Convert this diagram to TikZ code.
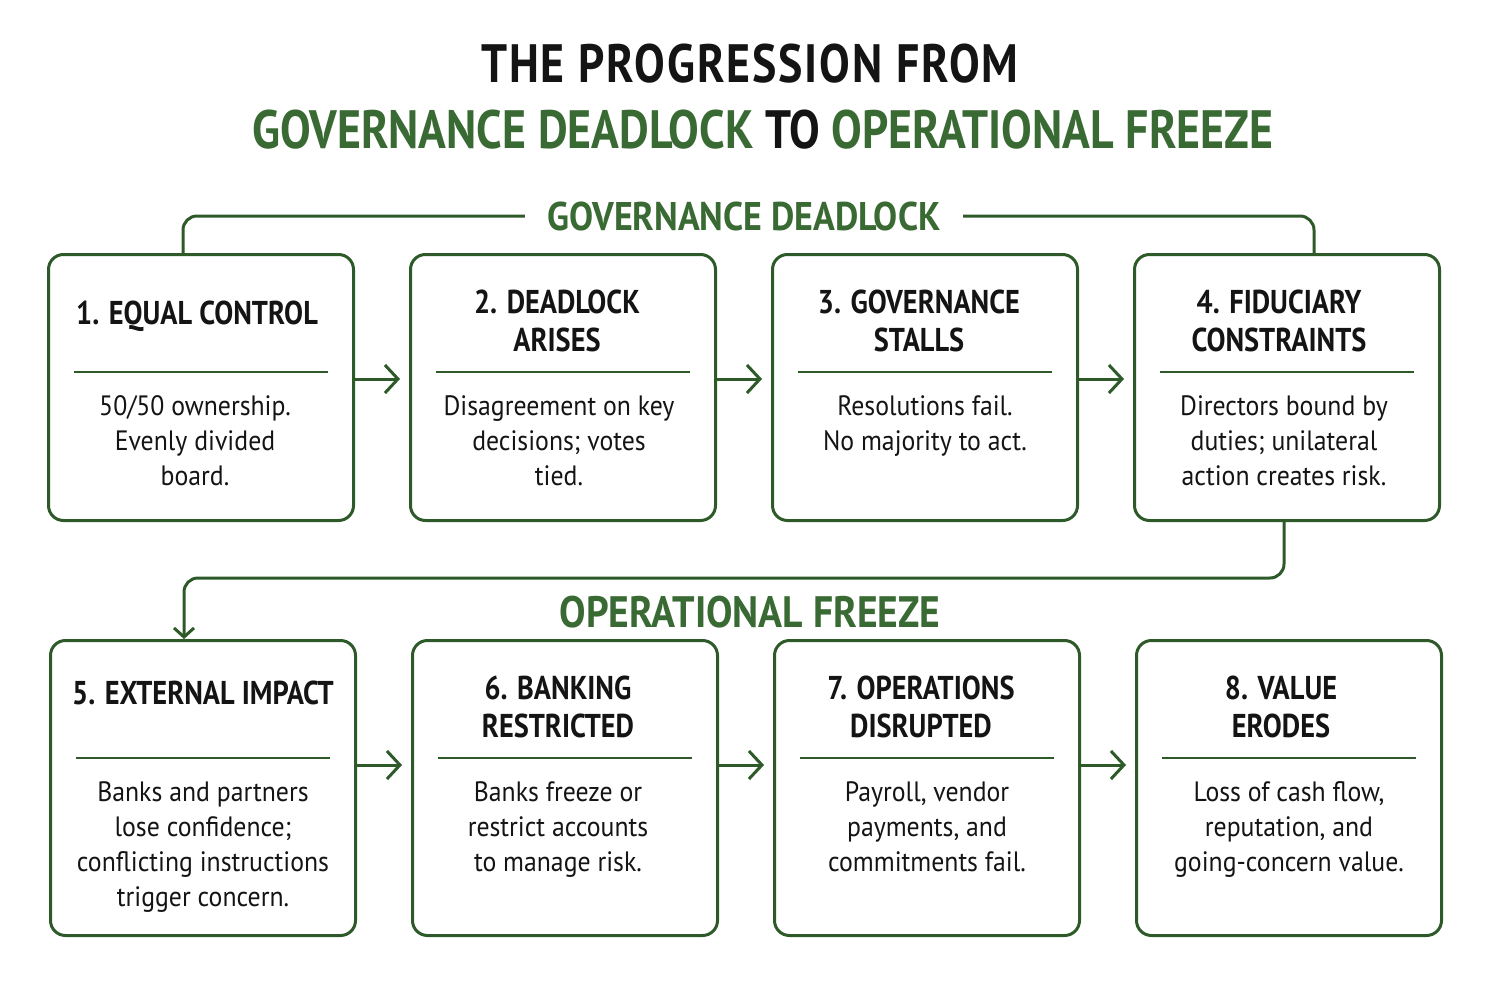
\documentclass[tikz,border=0pt]{standalone}
\usepackage{fontspec}
\setmainfont{PT Sans}[FakeStretch=0.92]
\newfontfamily\headfont{PT Sans}[FakeStretch=0.86]
\newfontfamily\phasefont{PT Sans}[FakeStretch=0.9]
\newfontfamily\titlefont{PT Sans}[FakeStretch=0.85]
\usetikzlibrary{positioning,arrows.meta}

\definecolor{deepgreen}{HTML}{2E5A2A}
\definecolor{leafgreen}{HTML}{3A6A33}
\definecolor{inkblack}{HTML}{141414}

\tikzset{
  card/.style={draw=deepgreen, line width=3pt, rounded corners=15pt, fill=white, minimum width=305pt, inner sep=0pt},
  toprow/.style={card, minimum height=266pt},
  botrow/.style={card, minimum height=295pt},
  cardhead/.style={font=\headfont\bfseries\fontsize{33}{38}\selectfont, align=center, text=inkblack},
  cardbody/.style={font=\fontsize{28}{35}\selectfont, align=center, text=inkblack, anchor=north, inner sep=0pt},
  divider/.style={draw=deepgreen, line width=2.5pt},
  flow/.style={draw=deepgreen, line width=3pt, -{Straight Barb[length=13pt,width=28pt]}},
  link/.style={draw=deepgreen, line width=3pt, rounded corners=14pt},
  phase/.style={font=\phasefont\bfseries\fontsize{40}{42}\selectfont, text=leafgreen, fill=white, inner xsep=23pt, inner ysep=4pt},
  headline/.style={font=\titlefont\bfseries\fontsize{54}{60}\selectfont, text=inkblack, anchor=base},
}

\begin{document}
\begin{tikzpicture}[x=1pt,y=-1pt]
  \useasboundingbox[fill=white] (0,0) rectangle (1492,985);

  % title
  \node[headline] (head1) at (750,82) {\addfontfeature{LetterSpace=3.5}THE PROGRESSION FROM};
  \node[headline] (head2) at (763,148) {\textcolor{leafgreen}{GOVERNANCE DEADLOCK} TO \textcolor{leafgreen}{OPERATIONAL FREEZE}};

  % cards
  \node[toprow] (b1) at (201,387.5) {};
  \node[toprow, right=54pt of b1] (b2) {};
  \node[toprow, right=54pt of b2] (b3) {};
  \node[toprow, right=54pt of b3] (b4) {};
  \node[botrow, below=117pt of b1, xshift=2pt] (b5) {};
  \node[botrow, right=54pt of b5] (b6) {};
  \node[botrow, right=54pt of b6] (b7) {};
  \node[botrow, right=54pt of b7] (b8) {};

  \foreach \b in {b1,b2,b3,b4,b5,b6,b7,b8}
    \draw[divider] ([xshift=27pt,yshift=-119pt]\b.north west) -- ([xshift=-27pt,yshift=-119pt]\b.north east);

  % headings
  \node[cardhead] (h1) at ([xshift=-4pt,yshift=-63pt]b1.north) {1. EQUAL CONTROL};
  \node[cardhead] (h2) at ([xshift=-6pt,yshift=-68pt]b2.north) {2. DEADLOCK\\ARISES};
  \node[cardhead] (h3) at ([xshift=-6pt,yshift=-68pt]b3.north) {3. GOVERNANCE\\STALLS};
  \node[cardhead] (h4) at ([xshift=-8pt,yshift=-68pt]b4.north) {4. FIDUCIARY\\CONSTRAINTS};
  \node[cardhead] (h5) at ([yshift=-54pt]b5.north) {5. EXTERNAL IMPACT};
  \node[cardhead] (h6) at ([xshift=-7pt,yshift=-68pt]b6.north) {6. BANKING\\RESTRICTED};
  \node[cardhead] (h7) at ([xshift=-6pt,yshift=-68pt]b7.north) {7. OPERATIONS\\DISRUPTED};
  \node[cardhead] (h8) at ([xshift=-8pt,yshift=-68pt]b8.north) {8. VALUE\\ERODES};

  % descriptions
  \node[cardbody] (d1) at ([xshift=-6pt,yshift=-142pt]b1.north) {50/50 ownership.\\Evenly divided\\board.};
  \node[cardbody] (d2) at ([xshift=-4pt,yshift=-142pt]b2.north) {Disagreement on key\\decisions; votes\\tied.};
  \node[cardbody] (d3) at ([yshift=-142pt]b3.north) {Resolutions fail.\\No majority to act.};
  \node[cardbody] (d4) at ([xshift=-3pt,yshift=-142pt]b4.north) {Directors bound by\\duties; unilateral\\action creates risk.};
  \node[cardbody] (d5) at ([yshift=-142pt]b5.north) {Banks and partners\\lose confidence;\\conflicting instructions\\trigger concern.};
  \node[cardbody] (d6) at ([xshift=-7pt,yshift=-142pt]b6.north) {Banks freeze or\\restrict accounts\\to manage risk.};
  \node[cardbody] (d7) at ([yshift=-142pt]b7.north) {Payroll, vendor\\payments, and\\commitments fail.};
  \node[cardbody] (d8) at ([yshift=-142pt]b8.north) {Loss of cash flow,\\reputation, and\\going-concern value.};

  % arrows along each row
  \foreach \a/\z in {b1/b2,b2/b3,b3/b4,b5/b6,b6/b7,b7/b8}
    \draw[flow] ([yshift=-126pt]\a.north east) -- ([xshift=-9pt,yshift=-126pt]\z.north west);

  % phase brackets
  \draw[link] ([xshift=-18pt]b1.north) -- ++(0,-37) -| ([xshift=27pt]b4.north);
  \node[phase] (deadlock) at (744,216) {GOVERNANCE DEADLOCK};
  \draw[link, -{Straight Barb[length=9pt,width=20pt]}] ([xshift=-3pt]b4.south) -- ++(0,56) -| ([xshift=-19pt]b5.north);
  \node[phase, fill=none, font=\phasefont\bfseries\fontsize{44}{46}\selectfont] (freeze) at (750,612) {OPERATIONAL FREEZE};
\end{tikzpicture}
\end{document}
